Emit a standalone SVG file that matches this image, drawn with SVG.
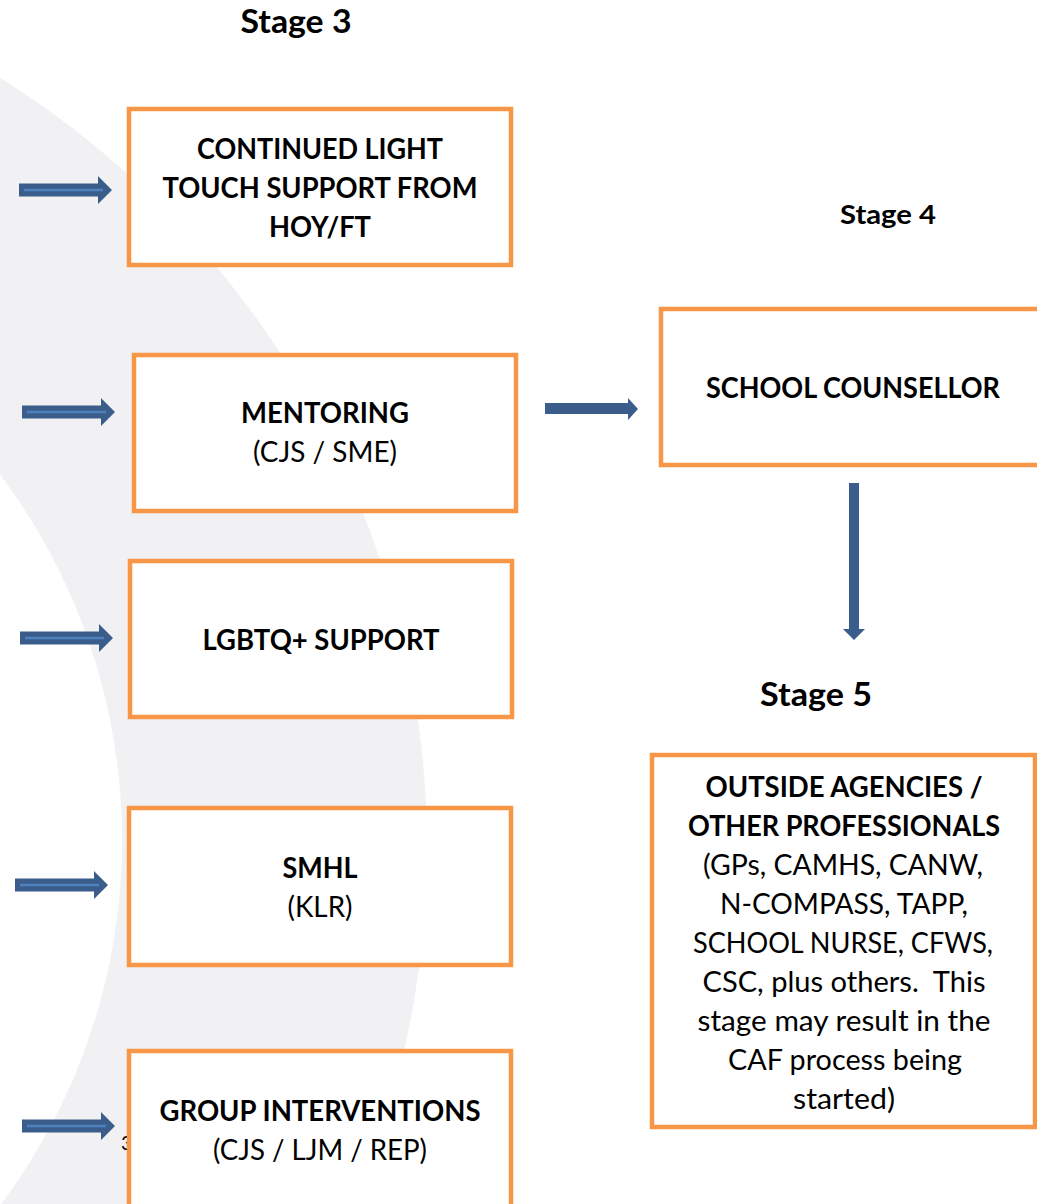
<svg xmlns="http://www.w3.org/2000/svg" width="1037" height="1204" viewBox="0 0 1037 1204">
<style>
.bg{fill:#ffffff}
.wm{fill:#f1f1f3;fill-rule:evenodd}
.box{fill:#ffffff;stroke:#f79646;stroke-width:4.5}
.t{font-family:Lato,"Liberation Sans",sans-serif;font-size:28px;fill:#000;text-anchor:middle}
.b{font-weight:bold}
.h{font-family:Lato,"Liberation Sans",sans-serif;font-weight:bold;fill:#000;text-anchor:middle}
.arr{fill:#3b5d8c}
.hl{stroke:#4f81bd;stroke-width:2.5}
</style>
<defs>
<path id="la" d="M0,-6.5 H79 V-14 L93,0 L79,14 V6.5 H0 Z"/>
</defs>
<rect class="bg" x="0" y="0" width="1037" height="1204"/>
<path class="wm" d="M427,848 A908,908 0 1 1 427,847.9 Z M122,840 A609,609 0 1 0 122,840.1 Z"/>
<text x="121" y="1150" font-family="Lato,'Liberation Sans',sans-serif" font-size="20" fill="#000">3</text>

<text class="h" x="296" y="33" font-size="32" textLength="111" lengthAdjust="spacingAndGlyphs">Stage 3</text>
<text class="h" x="888" y="224" font-size="26" textLength="96" lengthAdjust="spacingAndGlyphs">Stage 4</text>
<text class="h" x="816" y="706" font-size="32" textLength="112" lengthAdjust="spacingAndGlyphs">Stage 5</text>

<g id="connectors">
<g><use href="#la" class="arr" transform="translate(19,190)"/><line class="hl" x1="24" y1="190" x2="103" y2="190"/></g>
<g><use href="#la" class="arr" transform="translate(22,412)"/><line class="hl" x1="27" y1="412" x2="106" y2="412"/></g>
<g><use href="#la" class="arr" transform="translate(20,638)"/><line class="hl" x1="25" y1="638" x2="104" y2="638"/></g>
<g><use href="#la" class="arr" transform="translate(15,885)"/><line class="hl" x1="20" y1="885" x2="99" y2="885"/></g>
<g><use href="#la" class="arr" transform="translate(22,1126)"/><line class="hl" x1="27" y1="1126" x2="106" y2="1126"/></g>
<path class="arr" d="M545,403 H628 V398 L638,409 L628,420 V414 H545 Z"/>
<path class="arr" d="M849,483 H859 V629 H865 L854,640 L843,629 H849 Z"/>
</g>

<g id="node-light-touch">
<rect class="box" x="129" y="109" width="382" height="156"/>
<text class="t b" x="320" y="159" textLength="246" lengthAdjust="spacingAndGlyphs">CONTINUED LIGHT</text>
<text class="t b" x="320" y="198" textLength="315" lengthAdjust="spacingAndGlyphs">TOUCH SUPPORT FROM</text>
<text class="t b" x="320" y="237" textLength="102" lengthAdjust="spacingAndGlyphs">HOY/FT</text>
</g>

<g id="node-mentoring">
<rect class="box" x="134" y="355" width="382" height="156"/>
<text class="t b" x="325" y="423" textLength="168" lengthAdjust="spacingAndGlyphs">MENTORING</text>
<text class="t" x="325" y="462" textLength="144" lengthAdjust="spacingAndGlyphs">(CJS / SME)</text>
</g>

<g id="node-lgbtq">
<rect class="box" x="130" y="561" width="382" height="156"/>
<text class="t b" x="321" y="650" textLength="237" lengthAdjust="spacingAndGlyphs">LGBTQ+ SUPPORT</text>
</g>

<g id="node-smhl">
<rect class="box" x="129" y="808" width="382" height="157"/>
<text class="t b" x="320" y="878" textLength="75" lengthAdjust="spacingAndGlyphs">SMHL</text>
<text class="t" x="320" y="917" textLength="65" lengthAdjust="spacingAndGlyphs">(KLR)</text>
</g>

<g id="node-group">
<rect class="box" x="129" y="1051" width="382" height="200"/>
<text class="t b" x="320" y="1121" textLength="321" lengthAdjust="spacingAndGlyphs">GROUP INTERVENTIONS</text>
<text class="t" x="320" y="1160" textLength="214" lengthAdjust="spacingAndGlyphs">(CJS / LJM / REP)</text>
</g>

<g id="node-counsellor">
<rect class="box" x="661" y="309" width="400" height="156"/>
<text class="t b" x="853" y="398" textLength="294" lengthAdjust="spacingAndGlyphs">SCHOOL COUNSELLOR</text>
</g>

<g id="node-outside">
<rect class="box" x="652" y="755" width="383" height="372"/>
<text class="t b" x="844" y="797" textLength="277" lengthAdjust="spacingAndGlyphs">OUTSIDE AGENCIES /</text>
<text class="t b" x="844" y="836" textLength="312" lengthAdjust="spacingAndGlyphs">OTHER PROFESSIONALS</text>
<text class="t" x="843" y="875" textLength="280" lengthAdjust="spacingAndGlyphs">(GPs, CAMHS, CANW,</text>
<text class="t" x="844" y="914" textLength="248" lengthAdjust="spacingAndGlyphs">N-COMPASS, TAPP,</text>
<text class="t" x="843" y="953" textLength="300" lengthAdjust="spacingAndGlyphs">SCHOOL NURSE, CFWS,</text>
<text class="t" x="844" y="992" textLength="283" lengthAdjust="spacingAndGlyphs" xml:space="preserve">CSC, plus others.  This</text>
<text class="t" x="844" y="1031" textLength="293" lengthAdjust="spacingAndGlyphs">stage may result in the</text>
<text class="t" x="845" y="1070" textLength="234" lengthAdjust="spacingAndGlyphs">CAF process being</text>
<text class="t" x="844" y="1109" textLength="102" lengthAdjust="spacingAndGlyphs">started)</text>
</g>
</svg>
